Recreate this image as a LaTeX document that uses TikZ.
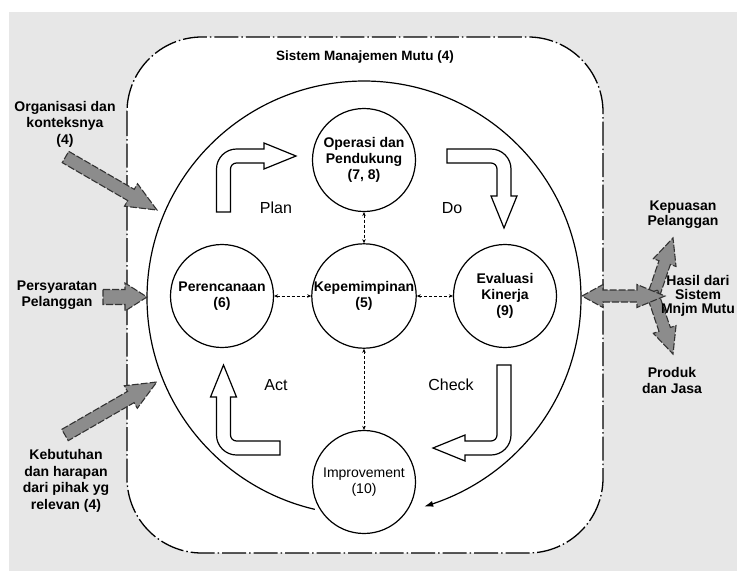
\documentclass[tikz,border=0pt]{standalone}
\usepackage{fontspec}
\setmainfont{Liberation Sans}
\usetikzlibrary{arrows.meta}
\definecolor{bggray}{RGB}{231,231,231}
\definecolor{arrgray}{RGB}{140,140,140}
\newcommand\Garr[7]{%
  \begin{scope}[shift={(#1,#2)},rotate=#3]
    \draw[garr] (0,-#5) -- ({#4-#7},-#5) -- ({#4-#7},-#6) -- (#4,0) -- ({#4-#7},#6) -- ({#4-#7},#5) -- (0,#5) -- cycle;
  \end{scope}}
\newcommand\Larr[5]{%
  \begin{scope}[shift={(#1,#2)},rotate=#3]
    \draw[larr] (-7,#4) -- (-7,13) .. controls (-7,2) and (2,-7) .. (13,-7) -- ({#5-32},-7) -- ({#5-32},-13) -- (#5,0) -- ({#5-32},13) -- ({#5-32},7) -- (13,7) .. controls (9.7,7) and (7,9.7) .. (7,13) -- (7,#4) -- cycle;
  \end{scope}}
\begin{document}
\begin{tikzpicture}[x=1pt,y=-1pt,
  outer/.style={draw, fill=white, line width=1.3pt, rounded corners=75pt, dash pattern=on 24pt off 3pt on 1.5pt off 3pt},
  bigc/.style={line width=1.2pt, -{Latex[length=9pt,width=6pt]}},
  circ/.style={circle, draw, line width=1.2pt, fill=white, minimum size=103pt, inner sep=0pt, align=center, font=\bfseries\fontsize{14}{16}\selectfont},
  link/.style={densely dashed, line width=0.6pt, {Stealth[length=4pt,width=3.5pt]}-{Stealth[length=4pt,width=3.5pt]}},
  larr/.style={draw, fill=white, line width=1.2pt},
  garr/.style={draw=black!80, fill=arrgray, line width=1.1pt, dash pattern=on 7pt off 2pt},
  lbl/.style={align=center, inner sep=0pt, font=\bfseries\fontsize{14}{16.5}\selectfont},
  pdca/.style={inner sep=0pt, font=\fontsize{16}{18}\selectfont}]
\useasboundingbox (0,0) rectangle (737,571);
\clip (0,0) rectangle (737,571);
\fill[white] (0,0) rectangle (737,571);
\fill[bggray] (9,12) rectangle (737,571);
\draw[outer] (127,37) rectangle (603,553);
\node[inner sep=0pt, font=\bfseries\fontsize{13.5}{15}\selectfont] (title) at (365,57) {Sistem Manajemen Mutu (4)};
% big cycle
\draw[bigc] plot[domain=103.1:433.9, samples=160, smooth] ({364+217*cos(\x)},{298+217*sin(\x)});
% circles
\node[circ] (ops) at (364,160) {Operasi dan\\Pendukung\\(7, 8)};
\node[circ] (kep) at (364,296) {Kepemimpinan\\(5)};
\node[circ] (per) at (222,296) {Perencanaan\\(6)};
\node[circ] (eva) at (505,296) {Evaluasi\\Kinerja\\(9)};
\node[circ, font=\fontsize{14}{16}\selectfont] (imp) at (364,482) {Improvement\\(10)};
% connectors
\draw[link] (per) -- (kep);
\draw[link] (kep) -- (eva);
\draw[link] (ops) -- (kep);
\draw[link] (kep) -- (imp);
% PDCA arrows
\Larr{223.5}{156}{0}{56}{72.5}
\Larr{504}{156}{-90}{57}{72}
\Larr{504}{448}{180}{83}{71}
\Larr{223.5}{448}{90}{56.5}{83}
\node[pdca] (plan) at (276,208) {Plan};
\node[pdca] (do) at (452,208) {Do};
\node[pdca] (act) at (276,385) {Act};
\node[pdca] (check) at (451,385) {Check};
% input arrows
\Garr{65.5}{157}{-30.1}{105.7}{6.5}{13}{30}
\Garr{103}{297}{0}{44}{7.5}{14}{22}
\Garr{65}{435}{30}{106}{6.5}{13}{30}
% output arrows
\Garr{652}{300}{71.3}{65.5}{6}{12}{26}
\Garr{652}{292}{-71.3}{65.5}{6}{12}{26}
\draw[garr] (582,296) -- (603,284.5) -- (603,290) -- (637,290) -- (637,284.5) -- (665,296) -- (637,307.5) -- (637,302) -- (603,302) -- (603,307.5) -- cycle;
% labels
\node[lbl] (org) at (65,124) {Organisasi dan\\konteksnya\\(4)};
\node[lbl, font=\bfseries\fontsize{14}{15.5}\selectfont] (pers) at (57,295) {Persyaratan\\Pelanggan};
\node[lbl] (keb) at (66,481) {Kebutuhan\\dan harapan\\dari pihak yg\\relevan (4)};
\node[lbl, font=\bfseries\fontsize{14}{15.5}\selectfont] (kepu) at (683,214.5) {Kepuasan\\Pelanggan};
\node[lbl, font=\bfseries\fontsize{14}{14}\selectfont] (hasil) at (698,296) {Hasil dari\\Sistem\\Mnjm Mutu};
\node[lbl, font=\bfseries\fontsize{14}{16}\selectfont] (prod) at (672,380) {Produk\\dan Jasa};
\end{tikzpicture}
\end{document}
